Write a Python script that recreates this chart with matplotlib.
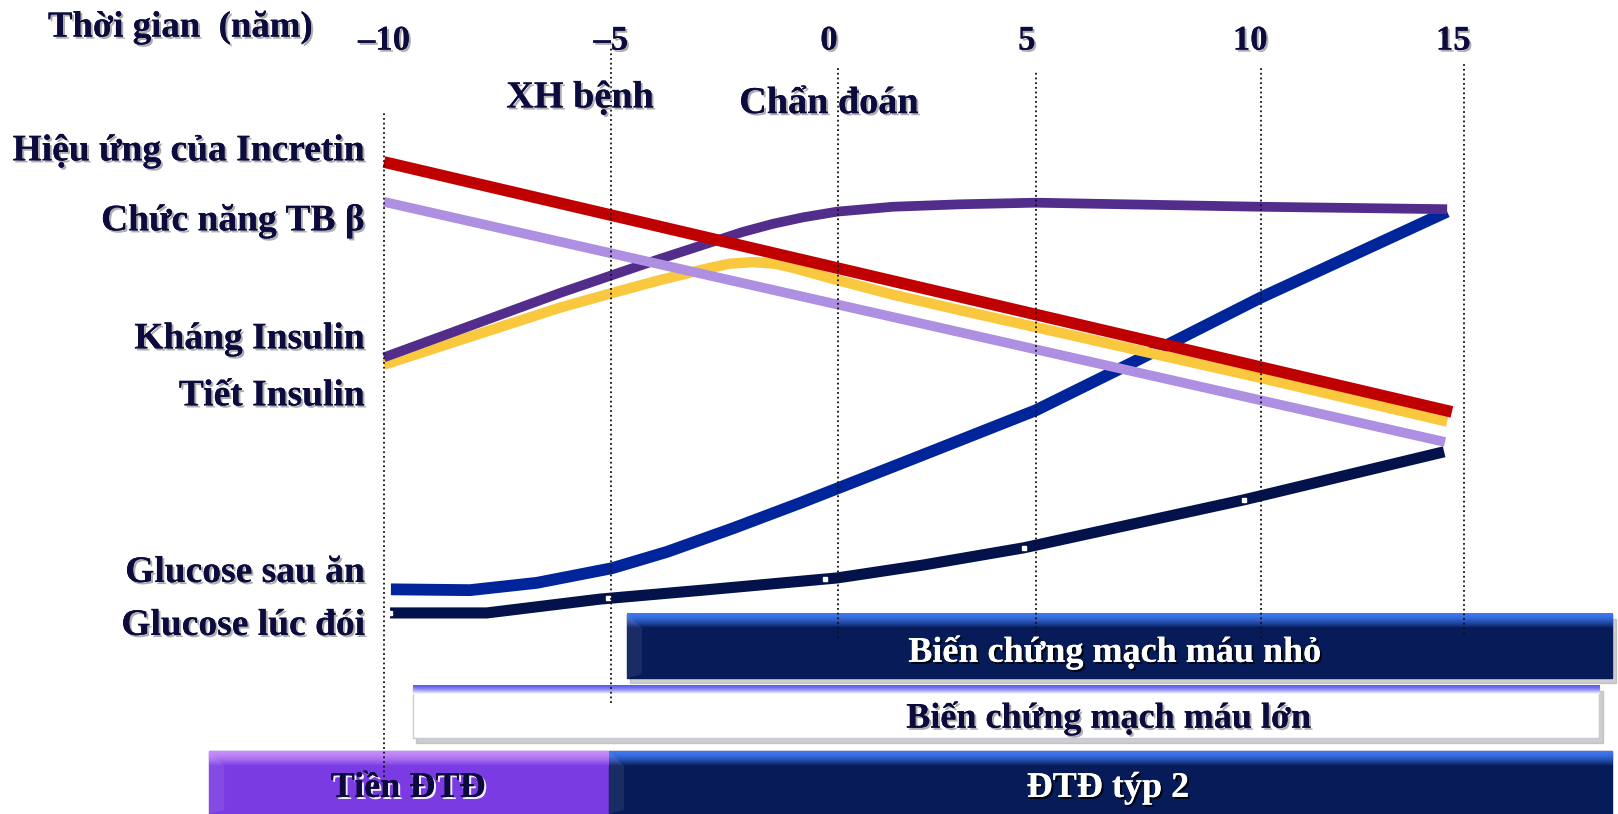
import numpy as np
import matplotlib
matplotlib.use("Agg")
import matplotlib.pyplot as plt
import matplotlib.patheffects as pe
from matplotlib.patches import Rectangle, Polygon

plt.rcParams['font.family'] = ['Liberation Serif', 'DejaVu Serif']
plt.rcParams['font.weight'] = 'bold'

# Trục thời gian (năm) - vị trí các đường chấm dọc
tick_labels = ["\u201310", "\u20135", "0", "5", "10", "15"]
grid_x = [-10, -4.75, 0.5, 5.1, 10.3, 15.0]
label_x = [-10, -4.75, 0.3, 4.88, 10.05, 14.75]
grid_top = [86.4, 94.2, 91.8, 91.3, 91.8, 92.4]
grid_bottom = [4.5, 13.6, 21.6, 21.6, 21.6, 22.1]

# Các đường cong (x = năm, y = mức tương đối 0-100)
incretin_x = [-10, 14.72]
incretin_y = [80.1, 49.4]

beta_x = [-10, 14.56]
beta_y = [75.2, 45.7]

khang_x = [-10, -5.93, -4.72, -3.61, -2.45, -1.70, -1.00, -0.30, 0.49, 1.78, 3.33, 5.09, 10.28, 14.61]
khang_y = [56.1, 64.0, 66.2, 68.2, 70.2, 71.5, 72.5, 73.3, 74.0, 74.6, 74.9, 75.1, 74.6, 74.3]

tiet_x = [-10, -5.93, -4.72, -3.61, -2.45, -2.0, -1.46, -0.95, -0.53, 0.49, 1.78, 3.33, 5.09, 10.28, 14.61]
tiet_y = [55.2, 62.2, 64.0, 65.6, 67.1, 67.6, 67.8, 67.6, 67.1, 65.6, 63.8, 61.9, 59.8, 53.6, 48.2]

gsau_x = [-9.84, -8.01, -6.46, -4.72, -3.45, -1.92, -0.37, 1.94, 5.09, 7.34, 10.28, 14.61]
gsau_y = [27.6, 27.5, 28.4, 30.2, 32.2, 35.1, 38.2, 43.0, 49.6, 55.5, 63.4, 74.0]

gdoi_x = [-9.86, -7.62, -5.0, -2.62, 0.49, 2.5, 4.81, 9.91, 14.54]
gdoi_y = [24.7, 24.7, 26.4, 27.5, 29.0, 30.6, 32.7, 38.6, 44.5]

# Các thanh giai đoạn: (bắt đầu, kết thúc) theo năm
micro_span = (-4.375, 18.43)
macro_span = (-9.33, 18.13)
tien_span = (-14.05, -4.79)
typ2_span = (-4.79, 18.43)

navy_text = "#0b0b3d"

fig = plt.figure(figsize=(16.18, 8.14), dpi=100)
ax = fig.add_axes([0, 0, 1, 1])
ax.set_xlim(-18.889, 18.565)
ax.set_ylim(0, 100)
ax.axis('off')

shadow_dark = [pe.withSimplePatchShadow(offset=(1.5, -1.5), shadow_rgbFace='#9a9a9a', alpha=0.8), pe.Normal()]
shadow_white = [pe.withSimplePatchShadow(offset=(1.5, -1.5), shadow_rgbFace='black', alpha=0.8), pe.Normal()]


def draw_bar(x0, x1, y0, y1, body, top, hl=1.8, shadow=True, edge=None):
    # bóng mờ phía dưới
    if shadow:
        ax.add_patch(Rectangle((x0 + 0.08, y0 - 0.6), x1 - x0, y1 - y0, color='#a0a0a0', alpha=0.5, zorder=1))
    ax.add_patch(Rectangle((x0, y0), x1 - x0, y1 - y0, facecolor=body, edgecolor=edge or body, lw=1, zorder=2))
    # dải sáng phía trên (gradient)
    grad = (np.linspace(0, 1, 60) ** 1.6).reshape(-1, 1)
    c0 = np.array(matplotlib.colors.to_rgb(top))
    c1 = np.array(matplotlib.colors.to_rgb(body))
    img = c0[None, None, :] * (1 - grad[:, :, None]) + c1[None, None, :] * grad[:, :, None]
    ax.imshow(img, extent=(x0, x1, y1 - hl, y1), origin='upper', aspect='auto', zorder=3)
    # góc vát bên trái
    ax.add_patch(Polygon([(x0, y1), (x0 + 0.35, y1 - hl), (x0 + 0.35, y0 + 0.5), (x0, y0)],
                         closed=True, facecolor='white', alpha=0.08, lw=0, zorder=3))


draw_bar(micro_span[0], micro_span[1], 16.7, 24.6, '#061b57', '#3f78f2')
draw_bar(macro_span[0], macro_span[1], 9.3, 15.7, '#ffffff', '#5c5cee', hl=1.0, edge='#c8c8d8')
draw_bar(tien_span[0], tien_span[1], 0, 7.7, '#7a3ce2', '#c68cf8', shadow=False)
draw_bar(typ2_span[0], typ2_span[1], 0, 7.7, '#061b57', '#3f78f2', shadow=False)

# Các đường cong
ax.plot(gdoi_x, gdoi_y, color='#03124a', lw=8, solid_capstyle='butt', solid_joinstyle='round', zorder=5)
ax.plot(gsau_x, gsau_y, color='#00259a', lw=8.5, solid_capstyle='butt', solid_joinstyle='round', zorder=5)
ax.plot(tiet_x, tiet_y, color='#f9c83e', lw=7.5, solid_capstyle='butt', solid_joinstyle='round', zorder=6)
ax.plot(khang_x, khang_y, color='#522d8b', lw=7, solid_capstyle='butt', solid_joinstyle='round', zorder=7)
ax.plot(beta_x, beta_y, color='#ae8fe1', lw=7, solid_capstyle='butt', zorder=8)
ax.plot(incretin_x, incretin_y, color='#c00000', lw=8.4, solid_capstyle='butt', zorder=9)

# các chấm trắng nhỏ trên đường Glucose lúc đói
marks_x = [-9.86, -4.81, 0.21, 4.81, 9.91]
ax.plot(marks_x, np.interp(marks_x, gdoi_x, gdoi_y), 's', color='white', ms=2.5, zorder=6)

# Đường chấm dọc
for gx, gt, gb in zip(grid_x, grid_top, grid_bottom):
    ax.plot([gx, gx], [gb, gt], color='#111111', lw=1.3, linestyle=(0, (1, 1.6)), zorder=10)

# Nhãn trục thời gian
ax.text(-17.78, 95.5, "Thời gian  (năm)", fontsize=26.5, color=navy_text, ha='left', va='baseline',
        path_effects=shadow_dark, zorder=11)
for lx, lab in zip(label_x, tick_labels):
    ax.text(lx, 93.9, lab, fontsize=25, color=navy_text, ha='center', va='baseline',
            path_effects=shadow_dark, zorder=11)
ax.text(-5.46, 86.8, "XH bệnh", fontsize=27.5, color=navy_text, ha='center', va='baseline',
        path_effects=shadow_dark, zorder=11)
ax.text(0.3, 86.1, "Chẩn đoán", fontsize=27.5, color=navy_text, ha='center', va='baseline',
        path_effects=shadow_dark, zorder=11)

# Nhãn bên trái
left_labels = ["Hiệu ứng của Incretin", "Chức năng TB β", "Kháng Insulin", "Tiết Insulin",
               "Glucose sau ăn", "Glucose lúc đói"]
left_y = [80.3, 71.7, 57.2, 50.2, 28.5, 22.0]
for lab, ly in zip(left_labels, left_y):
    ax.text(-10.45, ly, lab, fontsize=27, color=navy_text, ha='right', va='baseline',
            path_effects=shadow_dark, zorder=11)

# Chữ trong các thanh
ax.text(6.92, 18.7, "Biến chứng mạch máu nhỏ", fontsize=26, color='white', ha='center', va='baseline',
        path_effects=shadow_white, zorder=11)
ax.text(6.78, 10.6, "Biến chứng mạch máu lớn", fontsize=26, color=navy_text, ha='center', va='baseline',
        path_effects=shadow_dark, zorder=11)
ax.text(-9.44, 2.1, "Tiền ĐTĐ", fontsize=26, color=navy_text, ha='center', va='baseline',
        path_effects=[pe.withSimplePatchShadow(offset=(1.5, -1.5), shadow_rgbFace='white', alpha=0.9), pe.Normal()],
        zorder=11)
ax.text(6.76, 2.1, "ĐTĐ týp 2", fontsize=26, color='white', ha='center', va='baseline',
        path_effects=shadow_white, zorder=11)

fig.savefig("out.png", dpi=100)
